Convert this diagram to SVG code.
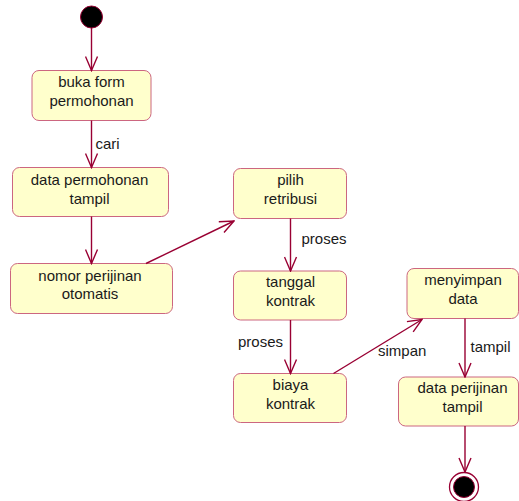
<svg xmlns="http://www.w3.org/2000/svg" width="519" height="501" viewBox="0 0 519 501">
  <style>
    .act rect { fill: #ffffcc; stroke: #cc6680; stroke-width: 1; }
    .act text, .lbl { font-family: "Liberation Sans", Arial, sans-serif; font-size: 15px; fill: #1a1a1a; }
    .act text { text-anchor: middle; }
    .edge { fill: none; stroke: #990033; stroke-width: 1.4; }
  </style>
  <defs>
    <marker id="open" viewBox="0 0 16 14" refX="15" refY="7" markerWidth="16" markerHeight="14" markerUnits="userSpaceOnUse" orient="auto">
      <path d="M1,1 L15,7 L1,13" fill="none" stroke="#990033" stroke-width="1.4"/>
    </marker>
  </defs>
  <rect width="519" height="501" fill="#ffffff"/>

  <!-- start / end states -->
  <g id="start">
    <circle cx="91.5" cy="17" r="11" fill="#000000" stroke="#990033" stroke-width="1"/>
  </g>
  <g id="end">
    <circle cx="464" cy="487" r="14.5" fill="#ffffff" stroke="#990033" stroke-width="1.3"/>
    <circle cx="464" cy="487" r="10.5" fill="#000000" stroke="#990033" stroke-width="1"/>
  </g>

  <!-- activities -->
  <g id="buka-form" class="act">
    <rect x="32" y="70.5" width="119" height="50" rx="7"/>
    <text x="91.5" y="87">buka form</text>
    <text x="91.5" y="106">permohonan</text>
  </g>
  <g id="data-permohonan" class="act">
    <rect x="12.5" y="167.5" width="156" height="49" rx="7"/>
    <text x="89.5" y="185">data permohonan</text>
    <text x="89.5" y="204">tampil</text>
  </g>
  <g id="nomor-perijinan" class="act">
    <rect x="10.5" y="263.5" width="162" height="50" rx="7"/>
    <text x="90" y="281">nomor perijinan</text>
    <text x="90" y="299">otomatis</text>
  </g>
  <g id="pilih-retribusi" class="act">
    <rect x="233.5" y="168.5" width="113" height="50" rx="7"/>
    <text x="290.5" y="185">pilih</text>
    <text x="290.5" y="204">retribusi</text>
  </g>
  <g id="tanggal-kontrak" class="act">
    <rect x="233.5" y="271" width="113" height="49" rx="7"/>
    <text x="290.5" y="287">tanggal</text>
    <text x="290.5" y="306">kontrak</text>
  </g>
  <g id="biaya-kontrak" class="act">
    <rect x="233.5" y="373.5" width="113" height="49" rx="7"/>
    <text x="290.5" y="390">biaya</text>
    <text x="290.5" y="409">kontrak</text>
  </g>
  <g id="menyimpan-data" class="act">
    <rect x="407" y="268.5" width="111.5" height="50" rx="7"/>
    <text x="463" y="285">menyimpan</text>
    <text x="463" y="304">data</text>
  </g>
  <g id="data-perijinan" class="act">
    <rect x="398.5" y="377" width="120" height="49" rx="7"/>
    <text x="462.5" y="393">data perijinan</text>
    <text x="462.5" y="412">tampil</text>
  </g>

  <!-- transitions -->
  <g id="connectors">
    <line class="edge" x1="91.5" y1="28" x2="91.5" y2="70.5" marker-end="url(#open)"/>
    <line class="edge" x1="91.5" y1="120.5" x2="91.5" y2="167.5" marker-end="url(#open)"/>
    <line class="edge" x1="91.5" y1="216.5" x2="91.5" y2="263.5" marker-end="url(#open)"/>
    <line class="edge" x1="146" y1="263.5" x2="234" y2="221" marker-end="url(#open)"/>
    <line class="edge" x1="290.5" y1="218.5" x2="290.5" y2="271" marker-end="url(#open)"/>
    <line class="edge" x1="290.5" y1="320" x2="290.5" y2="373.5" marker-end="url(#open)"/>
    <line class="edge" x1="333.5" y1="373.5" x2="422" y2="319.5" marker-end="url(#open)"/>
    <line class="edge" x1="465" y1="318.5" x2="465" y2="377" marker-end="url(#open)"/>
    <line class="edge" x1="465" y1="426" x2="465" y2="472" marker-end="url(#open)"/>
    <text class="lbl" x="95.5" y="148.5">cari</text>
    <text class="lbl" x="301.5" y="244">proses</text>
    <text class="lbl" x="238" y="347">proses</text>
    <text class="lbl" x="378" y="355.5">simpan</text>
    <text class="lbl" x="470.5" y="351.5">tampil</text>
  </g>
</svg>
